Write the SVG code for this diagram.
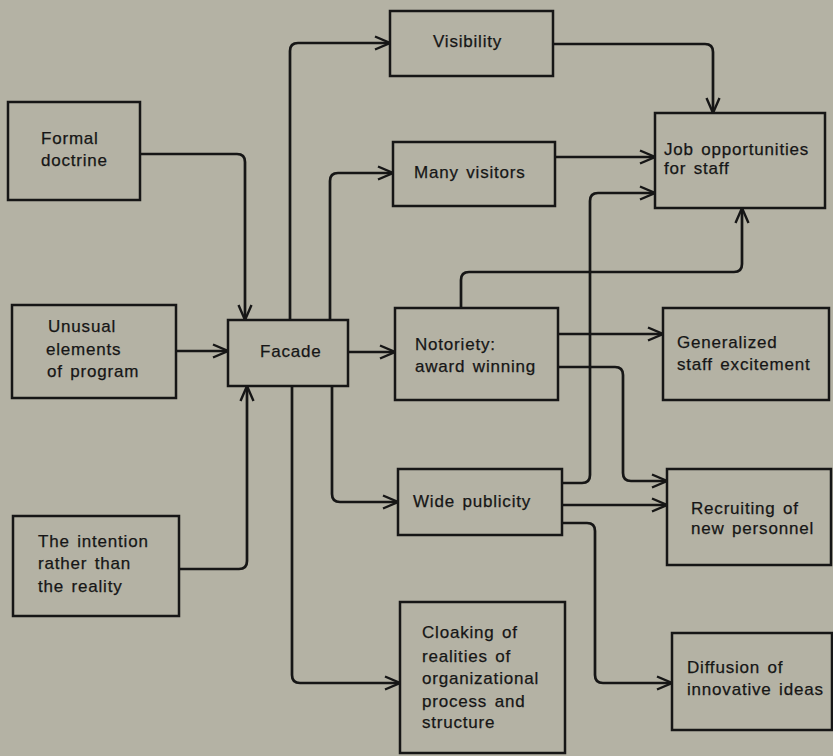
<svg xmlns="http://www.w3.org/2000/svg" width="833" height="756" viewBox="0 0 833 756">
<defs>
<marker id="arr" markerUnits="userSpaceOnUse" markerWidth="18" markerHeight="16" refX="16" refY="8" orient="auto">
<path d="M1,1.5 L16,8 L1,14.5" fill="none" stroke="#161616" stroke-width="2.4" stroke-linejoin="miter"/>
</marker>
</defs>
<style>
.bg{fill:#b4b2a4}
.box{fill:#b4b2a4;stroke:#161616;stroke-width:2.5}
.t{font-family:"Liberation Sans",Arial,sans-serif;font-size:17px;fill:#161616;stroke:#161616;stroke-width:0.25;letter-spacing:0.8px;word-spacing:2px}
.c{fill:none;stroke:#161616;stroke-width:2.7;marker-end:url(#arr)}
</style>
<rect class="bg" x="0" y="0" width="833" height="756"/>

<g id="connectors">
<path class="c" d="M140,154 H237 Q245,154 245,162 V320"/>
<path class="c" d="M176,351 H228"/>
<path class="c" d="M179,569 H239 Q247,569 247,561 V386"/>
<path class="c" d="M290,320 V51 Q290,43 298,43 H390"/>
<path class="c" d="M330,320 V181 Q330,173 338,173 H393"/>
<path class="c" d="M348,352 H395"/>
<path class="c" d="M332,386 V494 Q332,502 340,502 H398"/>
<path class="c" d="M292,386 V675 Q292,683 300,683 H400"/>
<path class="c" d="M553,44 H705 Q713,44 713,52 V113"/>
<path class="c" d="M555,157 H655"/>
<path class="c" d="M461,308 V280 Q461,272 469,272 H734 Q742,272 742,264 V208"/>
<path class="c" d="M562,483 H582 Q590,483 590,475 V201 Q590,193 598,193 H655"/>
<path class="c" d="M558,334 H663"/>
<path class="c" d="M558,367 H615 Q623,367 623,375 V473 Q623,481 631,481 H667"/>
<path class="c" d="M562,505 H667"/>
<path class="c" d="M562,523 H587 Q595,523 595,531 V675 Q595,683 603,683 H672"/>
</g>

<g id="formal">
<rect class="box" x="8" y="102" width="132" height="98"/>
<text class="t" x="41" y="144">Formal</text>
<text class="t" x="41" y="166">doctrine</text>
</g>
<g id="unusual">
<rect class="box" x="12" y="305" width="164" height="93"/>
<text class="t" x="48" y="332">Unusual</text>
<text class="t" x="46" y="355">elements</text>
<text class="t" x="47" y="377">of program</text>
</g>
<g id="intention">
<rect class="box" x="13" y="516" width="166" height="100"/>
<text class="t" x="38" y="547">The intention</text>
<text class="t" x="38" y="569">rather than</text>
<text class="t" x="38" y="592">the reality</text>
</g>
<g id="facade">
<rect class="box" x="228" y="320" width="120" height="66"/>
<text class="t" x="260" y="357">Facade</text>
</g>
<g id="visibility">
<rect class="box" x="390" y="11" width="163" height="65"/>
<text class="t" x="433" y="47">Visibility</text>
</g>
<g id="visitors">
<rect class="box" x="393" y="142" width="162" height="64"/>
<text class="t" x="414" y="178">Many visitors</text>
</g>
<g id="notoriety">
<rect class="box" x="395" y="308" width="163" height="92"/>
<text class="t" x="415" y="350">Notoriety:</text>
<text class="t" x="415" y="372">award winning</text>
</g>
<g id="publicity">
<rect class="box" x="398" y="469" width="164" height="66"/>
<text class="t" x="413" y="507">Wide publicity</text>
</g>
<g id="cloaking">
<rect class="box" x="400" y="602" width="165" height="151"/>
<text class="t" x="422" y="638">Cloaking of</text>
<text class="t" x="422" y="662">realities of</text>
<text class="t" x="422" y="684">organizational</text>
<text class="t" x="422" y="707">process and</text>
<text class="t" x="422" y="728">structure</text>
</g>
<g id="job">
<rect class="box" x="655" y="113" width="170" height="95"/>
<text class="t" x="664" y="155">Job opportunities</text>
<text class="t" x="664" y="174">for staff</text>
</g>
<g id="excitement">
<rect class="box" x="663" y="308" width="166" height="92"/>
<text class="t" x="677" y="348">Generalized</text>
<text class="t" x="677" y="370">staff excitement</text>
</g>
<g id="recruiting">
<rect class="box" x="667" y="469" width="164" height="96"/>
<text class="t" x="691" y="514">Recruiting of</text>
<text class="t" x="691" y="534">new personnel</text>
</g>
<g id="diffusion">
<rect class="box" x="672" y="633" width="160" height="97"/>
<text class="t" x="687" y="673">Diffusion of</text>
<text class="t" x="687" y="695">innovative ideas</text>
</g>
</svg>
